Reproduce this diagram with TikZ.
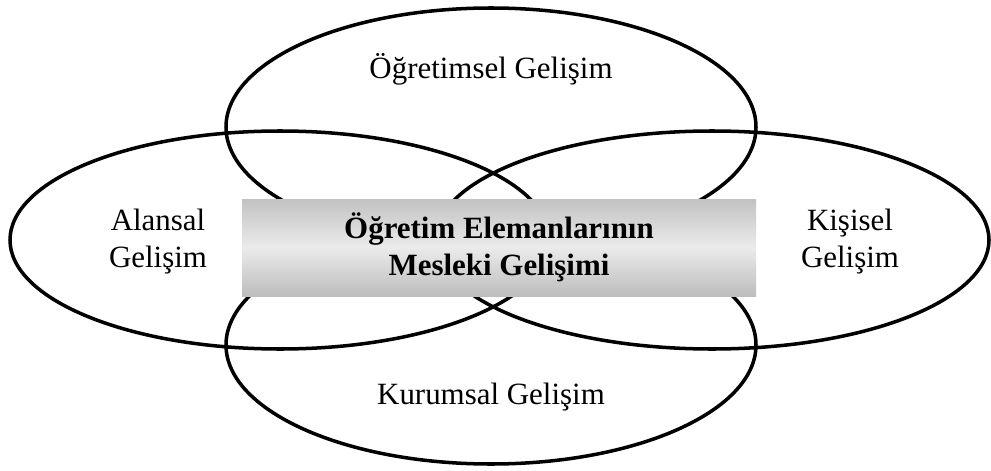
\documentclass[tikz,border=0pt]{standalone}
\usepackage{fontspec}
\setmainfont{Liberation Serif}
\usepackage{xcolor}

\begin{document}
\begin{tikzpicture}
  \tikzset{
    ring/.style={black, line width=2pt},
    lbl/.style={font=\fontsize{17.6}{21}\selectfont, align=center, inner sep=0pt}
  }
  \useasboundingbox (0,0) rectangle (19.82,9.4);
  % ellipses
  \draw[ring] (9.82,6.86) ellipse (5.3 and 2.38);
  \draw[ring] (9.82,2.5) ellipse (5.3 and 2.38);
  \draw[ring] (5.6,4.6) ellipse (5.4 and 2.18);
  \draw[ring] (14.24,4.6) ellipse (5.54 and 2.18);
  % centre box
  \node[lbl, font=\fontsize{17.6}{21}\selectfont\bfseries, minimum width=10.28cm, minimum height=1.94cm,
        top color=black!24, bottom color=black!26, middle color=black!8] (core) at (9.98,4.45)
        {Öğretim Elemanlarının\\Mesleki Gelişimi};
  % labels
  \node[lbl] (ogretim) at (9.82,8.02) {Öğretimsel Gelişim};
  \node[lbl] (alan) at (3.16,4.57) {Alansal\\Gelişim};
  \node[lbl] (kisi) at (17.0,4.57) {Kişisel\\Gelişim};
  \node[lbl] (kurum) at (9.82,1.45) {Kurumsal Gelişim};
\end{tikzpicture}
\end{document}
